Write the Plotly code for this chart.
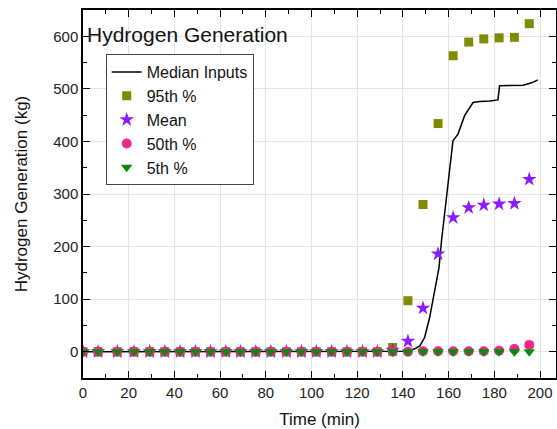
import plotly.graph_objects as go

# Data
t_pts = [0, 6.6, 15, 22.3, 29.2, 35.8, 42.5, 49.2, 55.8, 62.5, 68.9, 75.6, 82.2, 89.0,
         95.6, 102.1, 108.8, 115.5, 122.3, 128.8, 135.5, 142.2, 148.8, 155.4, 162.0,
         168.8, 175.4, 182.1, 188.8, 195.3]
p95 = [0, 0, 0, 0, 0, 0, 0, 0, 0, 0, 0, 0, 0, 0, 0, 0, 0, 0, 0, 0,
       8, 97, 280, 434, 563, 589, 595, 597, 598, 624]
mean = [0, 0, 0, 0, 0, 0, 0, 0, 0, 0, 0, 0, 0, 0, 0, 0, 0, 0, 0, 0,
        3, 20, 83, 186, 255, 274, 279, 281, 282, 328]
p50 = [0, 0, 0, 0, 0, 0, 0, 0, 0, 0, 0, 0, 0, 0, 0, 0, 0, 0, 0, 0,
       0, 0, 1, 1, 1, 1, 1, 2, 5, 13]
p5 = [0] * 30

t_med = [0, 100, 130, 135, 140, 142.2, 145, 147.4, 149.5, 151.7, 153.9, 155.8, 156.9,
         158.3, 159.5, 161.9, 164.1, 167, 170.7, 173.6, 178, 181.6, 182.3, 186, 192.6, 196, 199.1]
med = [0, 0, 0, 1, 1, 2, 5, 11, 27, 65, 116, 160, 211,
       262, 306, 401, 414, 449, 474, 476, 477, 479, 506, 506, 507, 511, 517]

FONT = "Liberation Sans, Arial, sans-serif"

fig = go.Figure()
fig.add_trace(go.Scatter(x=t_med, y=med, mode="lines", name="Median Inputs",
                         line=dict(color="black", width=1.5)))
fig.add_trace(go.Scatter(x=t_pts, y=p95, mode="markers", name="95th %",
                         marker=dict(symbol="square", size=9, color="#7f8c00")))
fig.add_trace(go.Scatter(x=t_pts, y=mean, mode="markers", name="Mean",
                         marker=dict(symbol="star", size=11, color="#8a1cff")))
fig.add_trace(go.Scatter(x=t_pts, y=p50, mode="markers", name="50th %",
                         marker=dict(symbol="circle", size=10, color="#f0288c")))
fig.add_trace(go.Scatter(x=t_pts, y=p5, mode="markers", name="5th %",
                         marker=dict(symbol="triangle-down", size=10, color="#0a8a0a")))

axis_common = dict(showline=True, linecolor="black", linewidth=1.5, mirror="ticks",
                   ticks="inside", ticklen=7, tickwidth=1.3, tickcolor="black",
                   showgrid=True, gridcolor="#e3e3e3", gridwidth=1, zeroline=False,
                   tickfont=dict(family=FONT, size=15, color="#222"))

fig.update_xaxes(range=[0, 207], dtick=20, tick0=0,
                 title=dict(text="Time (min)", font=dict(family=FONT, size=17, color="#111"),
                            standoff=13),
                 minor=dict(dtick=10, ticks="inside", ticklen=4, tickcolor="black", showgrid=False),
                 **axis_common)
fig.update_yaxes(range=[-50, 650], dtick=100, tick0=0,
                 title=dict(text="Hydrogen Generation (kg)", font=dict(family=FONT, size=17, color="#111"),
                            standoff=21),
                 minor=dict(dtick=50, ticks="inside", ticklen=4, tickcolor="black", showgrid=False),
                 **axis_common)

fig.add_annotation(x=0.005, y=0.97, xref="paper", yref="paper", xanchor="left", yanchor="top",
                   text="Hydrogen Generation", showarrow=False,
                   font=dict(family=FONT, size=21, color="#111"))

fig.update_layout(
    width=557, height=429,
    margin=dict(l=83, r=1, t=10, b=51, autoexpand=False),
    paper_bgcolor="white", plot_bgcolor="white",
    showlegend=True,
    legend=dict(x=0.048, y=0.88, xanchor="left", yanchor="top",
                bgcolor="white", bordercolor="#444", borderwidth=1,
                font=dict(family=FONT, size=16, color="#111"),
                tracegroupgap=0),
)

fig.write_html("out.html", config={"displayModeBar": False},
               post_script="document.body.style.margin='0';")
